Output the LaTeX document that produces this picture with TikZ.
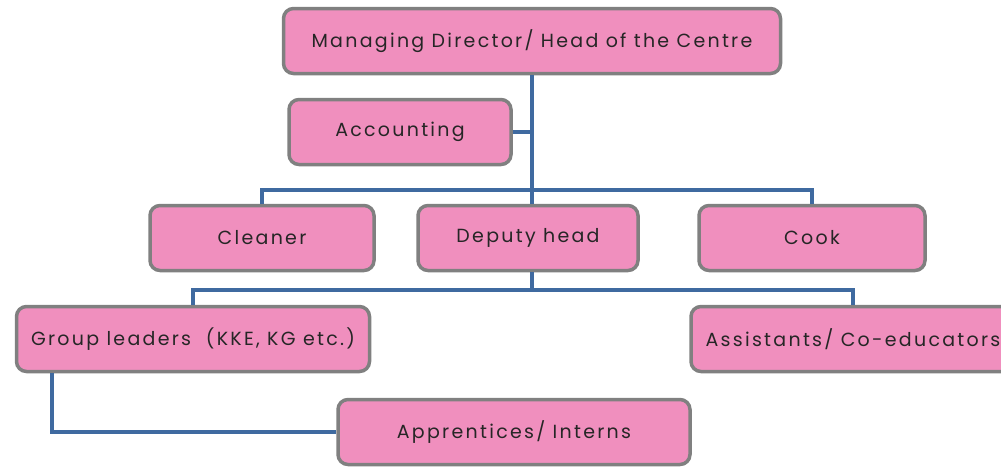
\documentclass[tikz,border=0pt]{standalone}
\usepackage{fontspec}
\setmainfont{Poppins}[LetterSpace=12]
\definecolor{boxpink}{RGB}{240,143,190}
\definecolor{boxgrey}{RGB}{128,128,128}
\definecolor{linkblue}{RGB}{63,106,160}
\tikzset{
    unit/.style={draw=boxgrey, fill=boxpink, line width=3.5pt, rounded corners=10pt,
        minimum height=65pt, text=black!85, font=\fontsize{19}{23}\selectfont},
    link/.style={draw=linkblue, line width=4pt}
}
\begin{document}
\begin{tikzpicture}[x=1pt,y=-1pt]
    \useasboundingbox (0,0) rectangle (1001,467);

    % the units of the centre
    \node[unit, minimum width=497pt] (head) at (532,41) {Managing Director/ Head of the Centre};
    \node[unit, minimum width=222pt] (acc) at (400,132) {Accounting};
    \node[unit, minimum width=224pt] (clean) at (262,238) {Cleaner};
    \node[unit, minimum width=220pt] (deputy) at (528,238) {Deputy head};
    \node[unit, minimum width=226pt] (cook) at (812,238) {Cook};
    \node[unit, minimum width=353pt] (group) at (193,339) {Group leaders\ \ (KKE, KG etc.)};
    \node[unit, minimum width=324pt] (assist) at (853,339) {Assistants/ Co-educators};
    \node[unit, minimum width=352pt] (appr) at (514,432) {Apprentices/ Interns};

    % junction points of the lines
    \coordinate (top) at (532,190);
    \coordinate (mid) at (532,290);

    % draw the lines
    \draw[link] (head.south -| top) -- (top);
    \draw[link] (acc.east) -- (acc.east -| top);
    \draw[link] (top) -| (clean.north);
    \draw[link] (top) -| (cook.north);
    \draw[link] (top) -- (deputy.north -| top);
    \draw[link] (deputy.south -| mid) -- (mid);
    \draw[link] (mid) -| (group.north);
    \draw[link] (mid) -| (assist.north);
    \draw[link] ([xshift=-141pt]group.south) |- (appr.west);

\end{tikzpicture}
\end{document}
